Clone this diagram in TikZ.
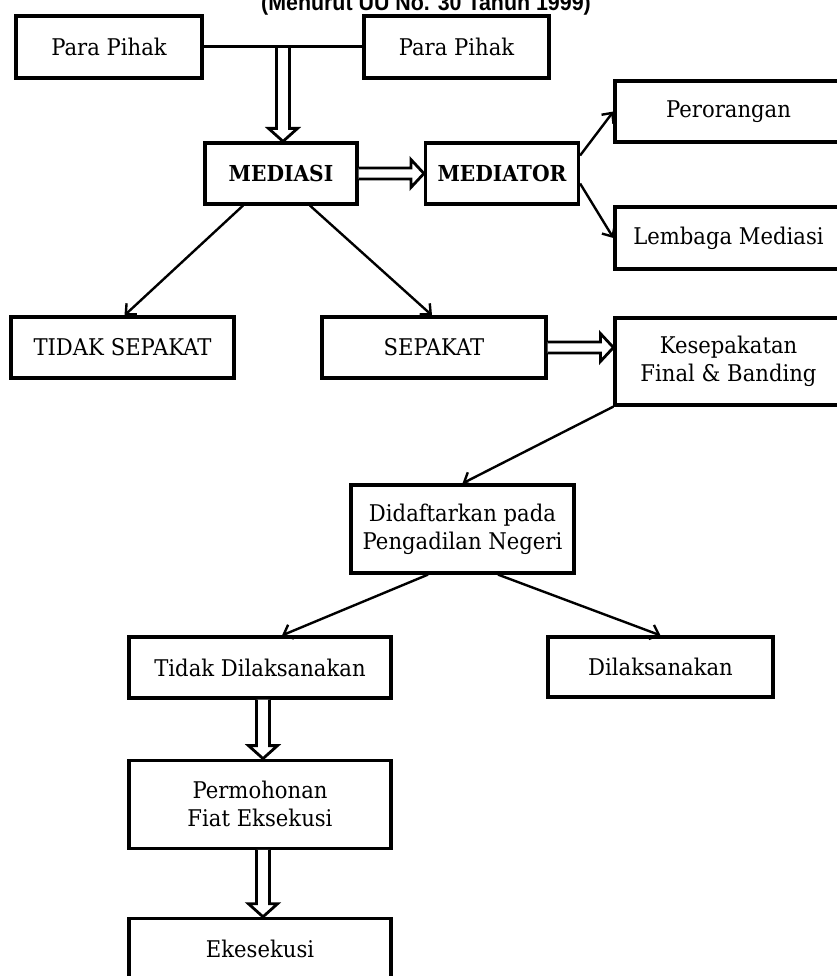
\documentclass[tikz,border=0pt]{standalone}
\usepackage{fontspec}
\setmainfont{DejaVu Serif}[FakeStretch=0.92]
\newfontfamily\titlefont{Liberation Sans}[FakeStretch=0.93]
\usetikzlibrary{arrows.meta,calc,positioning}
\tikzset{%
  box/.style={draw,line width=3.2pt,inner sep=0pt,align=center,font=\fontsize{23}{28}\selectfont},
  boldbox/.style={box,font=\fontsize{22}{28}\selectfont\bfseries},
  arrow/.style={line width=2.4pt,-{Straight Barb[length=8pt,width=15pt,line width=2.4pt]}},
  hollow/.style={draw,line width=2.8pt,fill=white,line join=miter,miter limit=20},
  joint/.style={line width=3pt},
}
% outlined arrows (down and right)
\newcommand{\downblock}[2]{%
  \draw[hollow] let \p1=(#1), \p2=(#2) in
    (\x1-6.5pt,\y1) -- (\x1-6.5pt,\y2+13pt) -- (\x1-14.5pt,\y2+13pt) -- (\x1,\y2)
    -- (\x1+14.5pt,\y2+13pt) -- (\x1+6.5pt,\y2+13pt) -- (\x1+6.5pt,\y1);}
\newcommand{\rightblock}[2]{%
  \draw[hollow] let \p1=(#1), \p2=(#2) in
    (\x1,\y1+5.5pt) -- (\x2-13pt,\y1+5.5pt) -- (\x2-13pt,\y1+14pt) -- (\x2,\y1)
    -- (\x2-13pt,\y1-14pt) -- (\x2-13pt,\y1-5.5pt) -- (\x1,\y1-5.5pt);}

\begin{document}
\begin{tikzpicture}[x=1pt,y=-1pt]
  \useasboundingbox (0,0) rectangle (836,976);
  \node[font=\titlefont\fontsize{23}{26}\selectfont\bfseries,anchor=base] (title) at (426,11) {(Menurut UU No. 30 Tahun 1999)};

  \node[box,minimum width=186pt,minimum height=62pt] (pihakL) at (109,47) {Para Pihak};
  \node[box,minimum width=185pt,minimum height=62pt] (pihakR) at (456.5,47) {Para Pihak};
  \node[boldbox,minimum width=152pt,minimum height=61pt] (mediasi) at (281,173.5) {MEDIASI};
  \node[boldbox,minimum width=153pt,minimum height=61pt] (mediator) at (502,173.5) {MEDIATOR};
  \node[box,minimum width=227pt,minimum height=61pt] (perorangan) at (728.5,111.5) {Perorangan};
  \node[box,minimum width=227pt,minimum height=62pt] (lembaga) at (728.5,238) {Lembaga Mediasi};
  \node[box,minimum width=223pt,minimum height=61pt] (tidaksepakat) at (122.5,347.5) {TIDAK SEPAKAT};
  \node[box,minimum width=224pt,minimum height=61pt] (sepakat) at (434,347.5) {SEPAKAT};
  \node[box,minimum width=227pt,minimum height=87pt] (kesepakatan) at (728.5,361.5) {Kesepakatan\\Final \& Banding};
  \node[box,minimum width=223pt,minimum height=88pt] (didaftarkan) at (462.5,529) {Didaftarkan pada\\Pengadilan Negeri};
  \node[box,minimum width=262pt,minimum height=61pt] (tidakdil) at (260,667.5) {Tidak Dilaksanakan};
  \node[box,minimum width=225pt,minimum height=60pt] (dilaksanakan) at (660.5,667) {Dilaksanakan};
  \node[box,minimum width=262pt,minimum height=88pt,below=59pt of tidakdil] (permohonan) {Permohonan\\Fiat Eksekusi};
  \node[box,minimum width=262pt,minimum height=62pt,below=67pt of permohonan] (ekesekusi) {Ekesekusi};

  \downblock{$(pihakL.east)!0.5!(pihakR.west)$}{mediasi.north}
  \draw[joint] (pihakL) -- (pihakR);
  \rightblock{mediasi.east}{mediator.west}
  \rightblock{sepakat.east}{kesepakatan.west}
  \downblock{[xshift=3pt]tidakdil.south}{permohonan.north}
  \downblock{[xshift=3pt]permohonan.south}{ekesekusi.north}

  \draw[arrow] ([xshift=-38pt]mediasi.south) -- ([xshift=2pt]tidaksepakat.north);
  \draw[arrow] ([xshift=29pt]mediasi.south) -- ([xshift=-2pt]sepakat.north);
  \draw[arrow] ([yshift=18pt]mediator.east) -- (perorangan.west);
  \draw[arrow] ([yshift=-10pt]mediator.east) -- (lembaga.west);
  \draw[arrow] (kesepakatan.south west) -- (didaftarkan.north);
  \draw[arrow] ([xshift=-34.5pt]didaftarkan.south) -- ([xshift=22pt]tidakdil.north);
  \draw[arrow] ([xshift=35.5pt]didaftarkan.south) -- (dilaksanakan.north);
\end{tikzpicture}
\end{document}
